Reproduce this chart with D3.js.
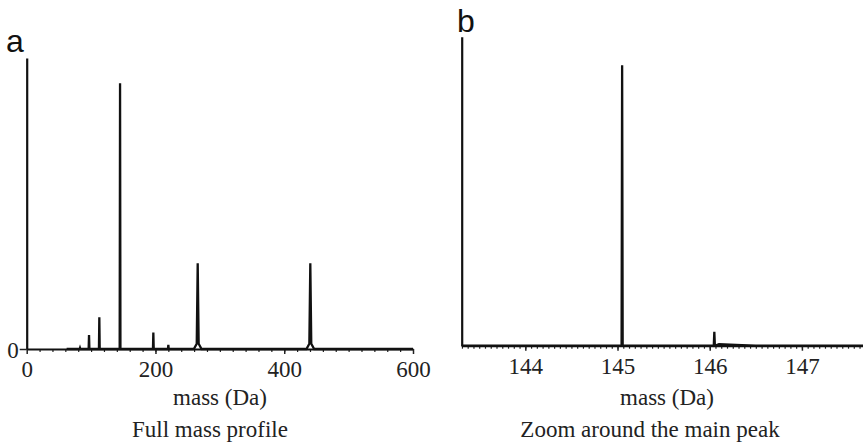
<!DOCTYPE html>
<html>
<head>
<meta charset="utf-8">
<script src="https://cdn.jsdelivr.net/npm/d3@7"></script>
<style>
  body { margin: 0; background: #fff; }
  .tick text { font-family: 'Liberation Serif', 'Times New Roman', serif; font-size: 23px; fill: #222; }
  .label { font-family: 'Liberation Serif', 'Times New Roman', serif; font-size: 23px; fill: #222; }
  .panel { font-family: 'Liberation Sans', Arial, sans-serif; font-size: 32px; fill: #111; }
</style>
</head>
<body>
<div id="chart"></div>
<script>
// panel a: full mass profile
const fullMass = [82.8, 96.8, 112.8, 145, 196.7, 220, 265.6, 440.5];
const fullIntensity = [0.4, 4.8, 10.9, 91.3, 5.7, 1.4, 29.5, 29.5];
const fullBroad = [false, false, false, false, false, false, true, true];
const fullTicks = [0, 200, 400, 600];

// panel b: zoom around main peak
const zoomMass = [145.05, 146.05];
const zoomIntensity = [90.8, 4.5];
const zoomTicks = [144, 145, 146, 147];

const width = 863;
const height = 445;

const svg = d3.select('#chart').append('svg')
  .attr('width', width)
  .attr('height', height);

// builds a spike profile along the baseline
function profile(masses, values, broad, start, end, spike, tail) {
  const pts = [[start, 0]];
  masses.forEach((m, i) => {
    if (broad && broad[i]) {
      pts.push([m - 6, 0], [m - 1.5, 1.8]);
      pts.push([m, values[i]]);
      pts.push([m + 1.5, 1.8], [m + 6, 0]);
    } else {
      pts.push([m - spike, 0], [m, values[i]], [m + spike, 0]);
    }
    if (tail && i === masses.length - 1) {
      pts.push([m + 0.05, 0.5], [m + 0.3, 0.2], [m + 0.45, 0]);
    }
  });
  pts.push([end, 0]);
  return pts;
}

function drawPanel(opt) {
  const x = d3.scaleLinear().domain(opt.xDomain).range(opt.xRange);
  const y = d3.scaleLinear().domain([0, 100]).range(opt.yRange);
  const g = svg.append('g');

  // minor ticks
  const minor = d3.range(opt.xDomain[0] - (opt.xDomain[0] % opt.minorStep) + opt.minorStep,
    opt.xDomain[1], opt.minorStep);
  g.append('g')
    .attr('transform', `translate(0,${opt.yRange[0]})`)
    .call(d3.axisBottom(x).tickValues(minor).tickSize(3).tickFormat('').tickSizeOuter(0))
    .call((s) => s.select('.domain').remove())
    .selectAll('line').attr('stroke', '#222').attr('stroke-width', 1.2);

  // major ticks + labels
  const xAxis = g.append('g')
    .attr('transform', `translate(0,${opt.yRange[0]})`)
    .call(d3.axisBottom(x).tickValues(opt.ticks).tickSize(5).tickPadding(7).tickSizeOuter(0)
      .tickFormat(d3.format('d')));
  xAxis.select('.domain').attr('stroke', '#111').attr('stroke-width', 2.2);
  xAxis.selectAll('line').attr('stroke', '#222').attr('stroke-width', 1.5);

  // y axis
  const yAxis = g.append('g')
    .attr('transform', `translate(${opt.xRange[0]},0)`)
    .call(d3.axisLeft(y).tickValues(opt.yLabel ? [0] : []).tickSize(7).tickPadding(1).tickSizeOuter(0));
  yAxis.select('.domain').attr('stroke', '#111').attr('stroke-width', 2.2);
  yAxis.selectAll('line').attr('stroke', '#222').attr('stroke-width', 1.5);
  yAxis.selectAll('.tick text').attr('dy', '0.35em');

  // spectrum
  const line = d3.line().x((d) => x(d[0])).y((d) => y(d[1]));
  g.append('path')
    .datum(opt.points)
    .attr('d', line)
    .attr('fill', 'none')
    .attr('stroke', '#111')
    .attr('stroke-width', 2.3)
    .attr('stroke-linejoin', 'miter');

  g.append('text')
    .attr('class', 'label')
    .attr('x', opt.titleX)
    .attr('y', 405)
    .attr('text-anchor', 'middle')
    .text('mass (Da)');

  g.append('text')
    .attr('class', 'label')
    .attr('x', opt.captionX)
    .attr('y', 437)
    .attr('text-anchor', 'middle')
    .text(opt.caption);

  g.append('text')
    .attr('class', 'panel')
    .attr('x', opt.letterX)
    .attr('y', opt.letterY)
    .text(opt.letter);
}

drawPanel({
  xDomain: [0, 600],
  xRange: [26.7, 413],
  yRange: [349, 58],
  ticks: fullTicks,
  minorStep: 20,
  yLabel: true,
  points: profile(fullMass, fullIntensity, fullBroad, 62, 600, 0.6, false),
  titleX: 220,
  captionX: 210,
  caption: 'Full mass profile',
  letter: 'a',
  letterX: 6,
  letterY: 52,
});

drawPanel({
  xDomain: [143.31, 147.8],
  xRange: [461.7, 461.7 + 92.2 * (147.8 - 143.31)],
  yRange: [345.7, 36.7],
  ticks: zoomTicks,
  minorStep: 0.0625,
  yLabel: false,
  points: profile(zoomMass, zoomIntensity, null, 143.31, 147.8, 0.006, true),
  titleX: 667,
  captionX: 650,
  caption: 'Zoom around the main peak',
  letter: 'b',
  letterX: 457,
  letterY: 32,
});
</script>
</body>
</html>
